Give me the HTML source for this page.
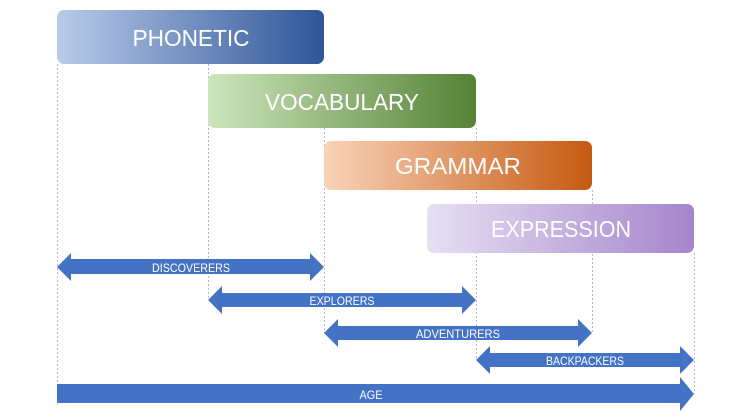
<!DOCTYPE html>
<html><head><meta charset="utf-8"><style>body{margin:0;background:#fff}svg{display:block}</style></head><body>
<svg width="748" height="420" viewBox="0 0 748 420" xmlns="http://www.w3.org/2000/svg" font-family="Liberation Sans, sans-serif">
<defs>
<linearGradient id="g1"><stop offset="0" stop-color="#b9cbea"/><stop offset="1" stop-color="#2f5597"/></linearGradient>
<linearGradient id="g2"><stop offset="0" stop-color="#cde6bd"/><stop offset="1" stop-color="#548235"/></linearGradient>
<linearGradient id="g3"><stop offset="0" stop-color="#fad3b8"/><stop offset="1" stop-color="#c55a11"/></linearGradient>
<linearGradient id="g4"><stop offset="0" stop-color="#e6e0f2"/><stop offset="1" stop-color="#a585cc"/></linearGradient>
</defs>
<g stroke="#b8bcc4" stroke-width="1" stroke-dasharray="2,2">
<line x1="57.5" y1="64" x2="57.5" y2="405"/>
<line x1="208.5" y1="64" x2="208.5" y2="300"/>
<line x1="324.5" y1="128" x2="324.5" y2="333"/>
<line x1="476.5" y1="128" x2="476.5" y2="360"/>
<line x1="592.5" y1="190" x2="592.5" y2="333"/>
<line x1="694.5" y1="253" x2="694.5" y2="394"/>
</g>
<rect x="57" y="10" width="267" height="54" rx="7" fill="url(#g1)"/>
<rect x="208" y="74" width="268" height="54" rx="7" fill="url(#g2)"/>
<rect x="324" y="141" width="268" height="49" rx="7" fill="url(#g3)"/>
<rect x="427" y="204" width="267" height="49" rx="7" fill="url(#g4)"/>
<g fill="#fff" font-size="23" text-anchor="middle">
<text x="191" y="46" textLength="117" lengthAdjust="spacingAndGlyphs">PHONETIC</text>
<text x="342" y="110" textLength="154" lengthAdjust="spacingAndGlyphs">VOCABULARY</text>
<text x="458" y="174" textLength="126" lengthAdjust="spacingAndGlyphs">GRAMMAR</text>
<text x="561" y="237" textLength="140" lengthAdjust="spacingAndGlyphs">EXPRESSION</text>
</g>
<g fill="#4472c4">
<polygon points="57,267 71,253 71,259 310,259 310,253 324,267 310,281 310,274 71,274 71,281"/>
<polygon points="208,300 222,286 222,293 462,293 462,286 476,300 462,314 462,307 222,307 222,314"/>
<polygon points="324,333 338,319 338,326 578,326 578,319 592,333 578,347 578,340 338,340 338,347"/>
<polygon points="476,360 490,346 490,353 680,353 680,346 694,360 680,374 680,367 490,367 490,374"/>
<polygon points="57,384 680,384 680,377 694,394 680,411 680,403 57,403"/>
</g>
<g fill="#fff" font-size="12" text-anchor="middle">
<text x="191" y="272" textLength="78" lengthAdjust="spacingAndGlyphs">DISCOVERERS</text>
<text x="342" y="305" textLength="65" lengthAdjust="spacingAndGlyphs">EXPLORERS</text>
<text x="458" y="338" textLength="84" lengthAdjust="spacingAndGlyphs">ADVENTURERS</text>
<text x="585" y="365" textLength="78" lengthAdjust="spacingAndGlyphs">BACKPACKERS</text>
<text x="371" y="399" textLength="23" lengthAdjust="spacingAndGlyphs">AGE</text>
</g>
</svg>
</body></html>
